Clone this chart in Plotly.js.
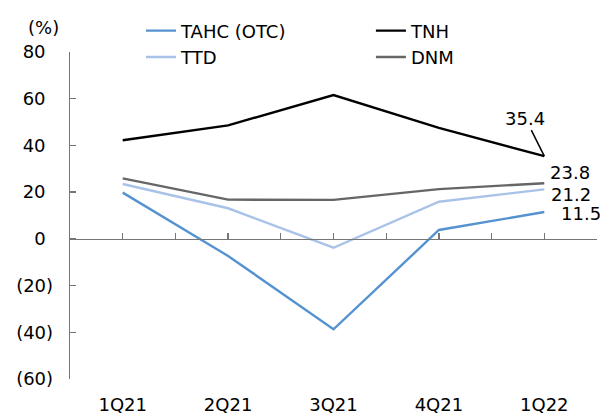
<!DOCTYPE html>
<html>
<head>
<meta charset="utf-8">
<script src="https://cdn.plot.ly/plotly-3.0.1.min.js"></script>
<style>html,body{margin:0;padding:0;background:#fff;}#chart{width:600px;height:417px;}</style>
</head>
<body>
<div id="chart"></div>
<script>
const categories = ["1Q21", "2Q21", "3Q21", "4Q21", "1Q22"];
const tahc = [19.8, -7.3, -38.7, 3.8, 11.5];
const tnh = [42.2, 48.6, 61.6, 47.5, 35.4];
const ttd = [23.5, 13.1, -3.8, 15.9, 21.2];
const dnm = [25.9, 16.8, 16.7, 21.3, 23.8];
const yTickVals = [-60, -40, -20, 0, 20, 40, 60, 80];
const yTickText = ["(60)", "(40)", "(20)", "0", "20", "40", "60", "80"];
const boundaryTicks = [-0.5, 0, 0.5, 1, 1.5, 2, 2.5, 3, 3.5, 4, 4.5];

const FONT = "DejaVu Sans, Verdana, sans-serif";
const AX = "#767676";
// accounting-style padding: positive labels leave room for a closing parenthesis
const PAD = "\u2008\u200A";
const yTickTextPadded = yTickText.map(t => t.startsWith("(") ? t : t + PAD);

const traces = [
  {x: categories, y: tahc, name: "TAHC (OTC)", legend: "legend", type: "scatter", mode: "lines", line: {color: "#5592D0", width: 2.4}},
  {x: categories, y: tnh, name: "TNH", legend: "legend2", type: "scatter", mode: "lines", line: {color: "#000000", width: 2.4}},
  {x: categories, y: ttd, name: "TTD", legend: "legend", type: "scatter", mode: "lines", line: {color: "#A9C3E8", width: 2.4}},
  {x: categories, y: dnm, name: "DNM", legend: "legend2", type: "scatter", mode: "lines", line: {color: "#666666", width: 2.4}},
  {x: [], y: [], xaxis: "x2", type: "scatter", mode: "lines", showlegend: false, hoverinfo: "skip"}
];

const last = categories.length - 1;
const legendBase = {orientation: "v", xanchor: "left", y: 1.121, yanchor: "top",
  font: {family: FONT, size: 18, color: "#000"}, bgcolor: "rgba(0,0,0,0)", tracegroupgap: 0};
const layout = {
  width: 600, height: 417,
  margin: {l: 70, r: 3, t: 52, b: 38},
  paper_bgcolor: "#fff", plot_bgcolor: "#fff",
  font: {family: FONT, size: 18, color: "#000"},
  showlegend: true,
  legend: Object.assign({}, legendBase, {x: 0.1347}),
  legend2: Object.assign({}, legendBase, {x: 0.571}),
  xaxis: {type: "category", range: [-0.5, 4.5], showline: false, ticks: "", showgrid: false,
          zeroline: false, tickfont: {family: FONT, size: 18}, ticklabelstandoff: 13},
  xaxis2: {overlaying: "x", anchor: "free", position: 60/140, type: "linear", range: [-0.5, 4.5],
           tickmode: "array", tickvals: boundaryTicks, ticks: "inside", ticklen: 6, tickcolor: AX,
           tickwidth: 1.3, showline: true, linecolor: AX, linewidth: 1.3,
           showticklabels: false, showgrid: false, zeroline: false},
  yaxis: {range: [-60, 80], tickmode: "array", tickvals: yTickVals, ticktext: yTickTextPadded,
          ticks: "inside", ticklen: 6, tickcolor: AX, tickwidth: 1.3, showline: true, linecolor: AX,
          linewidth: 1.3, showgrid: false, zeroline: false, tickfont: {family: FONT, size: 18},
          ticklabelstandoff: 12},
  annotations: [
    {xref: "paper", yref: "paper", x: -0.051, y: 1.075, xanchor: "center", yanchor: "middle",
     text: "(%)", showarrow: false, font: {family: FONT, size: 18}},
    {x: categories[last], y: tnh[last], xref: "x", yref: "y", text: tnh[last].toFixed(1),
     showarrow: true, arrowhead: 0, arrowwidth: 1.5, arrowcolor: "#000", ax: -19, ay: -38,
     font: {family: FONT, size: 18}},
    {x: categories[last], y: dnm[last], xref: "x", yref: "y", text: dnm[last].toFixed(1),
     showarrow: false, xanchor: "left", xshift: 4, yshift: 11, font: {family: FONT, size: 18}},
    {x: categories[last], y: ttd[last], xref: "x", yref: "y", text: ttd[last].toFixed(1),
     showarrow: false, xanchor: "left", xshift: 5, yshift: -5, font: {family: FONT, size: 18}},
    {x: categories[last], y: tahc[last], xref: "x", yref: "y", text: tahc[last].toFixed(1),
     showarrow: false, xanchor: "left", xshift: 15, yshift: -1, font: {family: FONT, size: 18}}
  ]
};

Plotly.newPlot("chart", traces, layout, {displayModeBar: false, staticPlot: true});
</script>
</body>
</html>
